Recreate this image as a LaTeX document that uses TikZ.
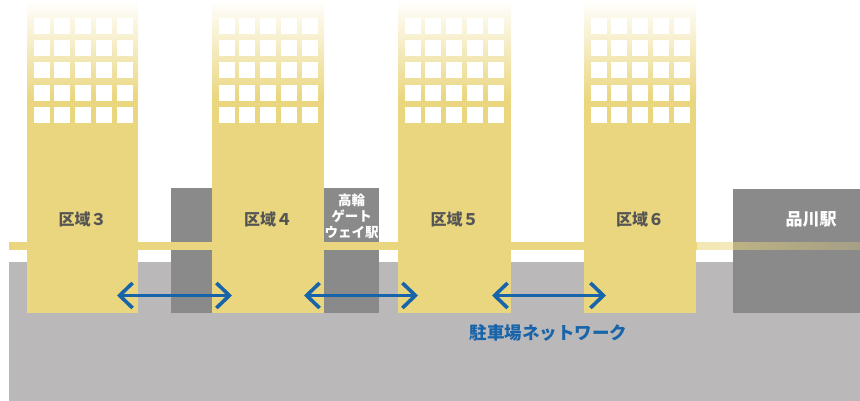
\documentclass[tikz,border=0pt]{standalone}
\usepackage{fontspec}
\newfontfamily\jp{Noto Sans CJK JP}
\usetikzlibrary{arrows.meta,fadings}
\definecolor{bldg}{RGB}{234,214,126}
\definecolor{basegray}{RGB}{186,184,185}
\definecolor{dgray}{RGB}{138,138,138}
\definecolor{netblue}{RGB}{24,100,170}
\definecolor{lbl}{RGB}{85,85,85}
\tikzfading[name=railfade, left color=transparent!40, right color=transparent!72]
\tikzset{
  zonelabel/.style={text=lbl, font=\jp\bfseries\fontsize{16}{18}\selectfont, inner sep=0pt},
  stationlabel/.style={text=white, font=\jp\bfseries\fontsize{17}{19}\selectfont, inner sep=0pt},
  netarrow/.style={draw=netblue, line width=3.6pt, {Straight Barb[length=13pt,width=25pt]}-{Straight Barb[length=13pt,width=25pt]}},
  darkbox/.style={fill=dgray},
  window/.style={fill=white},
}
\newcommand{\building}[2]{% x, width
  \shade[top color=white, bottom color=bldg] (#1,0) rectangle (#1+#2,100);
  \fill[bldg] (#1,99.5) rectangle (#1+#2,313);
  \foreach \i in {0,...,4}{
    \foreach \j in {0,...,4}{
      \fill[window] (#1+6.5+\i*20.75,18+\j*22.2) rectangle ++(16,16);
    }
  }
}
\begin{document}
\begin{tikzpicture}[x=1pt,y=-1pt]
\useasboundingbox (0,0) rectangle (860,401);
% underground base
\fill[basegray] (9,262) rectangle (860,401);
% dark station/gap boxes
\fill[darkbox] (171,188) rectangle (212,313);
\fill[darkbox] (324,188) rectangle (379,313);
\fill[darkbox] (733,189) rectangle (860,313);
% rail
\fill[bldg] (9,242) rectangle (697,250);
\fill[bldg, path fading=railfade] (696,242) rectangle (860,250);
% buildings
\building{27}{111}
\building{212}{112}
\building{398}{113}
\building{584}{112}
% labels
\node[zonelabel] (z3) at (82.5,219) {区域３};
\node[zonelabel] (z4) at (268,219) {区域４};
\node[zonelabel] (z5) at (454.5,219) {区域５};
\node[zonelabel] (z6) at (640,219) {区域６};
\node[text=white, align=center, inner sep=0pt, font=\jp\bfseries\fontsize{13.5}{16}\selectfont] (tkgw) at (351.5,216) {高輪\\ゲート\\ウェイ駅};
\node[stationlabel] (shin) at (811,219) {品川駅};
% parking network arrows
\coordinate (a1s) at (117,295.5);
\coordinate (a1e) at (232,295.5);
\coordinate (a2s) at (304,295.5);
\coordinate (a2e) at (418,295.5);
\coordinate (a3s) at (492,295.5);
\coordinate (a3e) at (606,295.5);
\draw[netarrow] (a1s) -- (a1e);
\draw[netarrow] (a2s) -- (a2e);
\draw[netarrow] (a3s) -- (a3e);
\node[text=netblue, inner sep=0pt, font=\jp\bfseries\fontsize{17.5}{20}\selectfont] (net) at (548.5,333) {駐車場ネットワーク};
\end{tikzpicture}
\end{document}
